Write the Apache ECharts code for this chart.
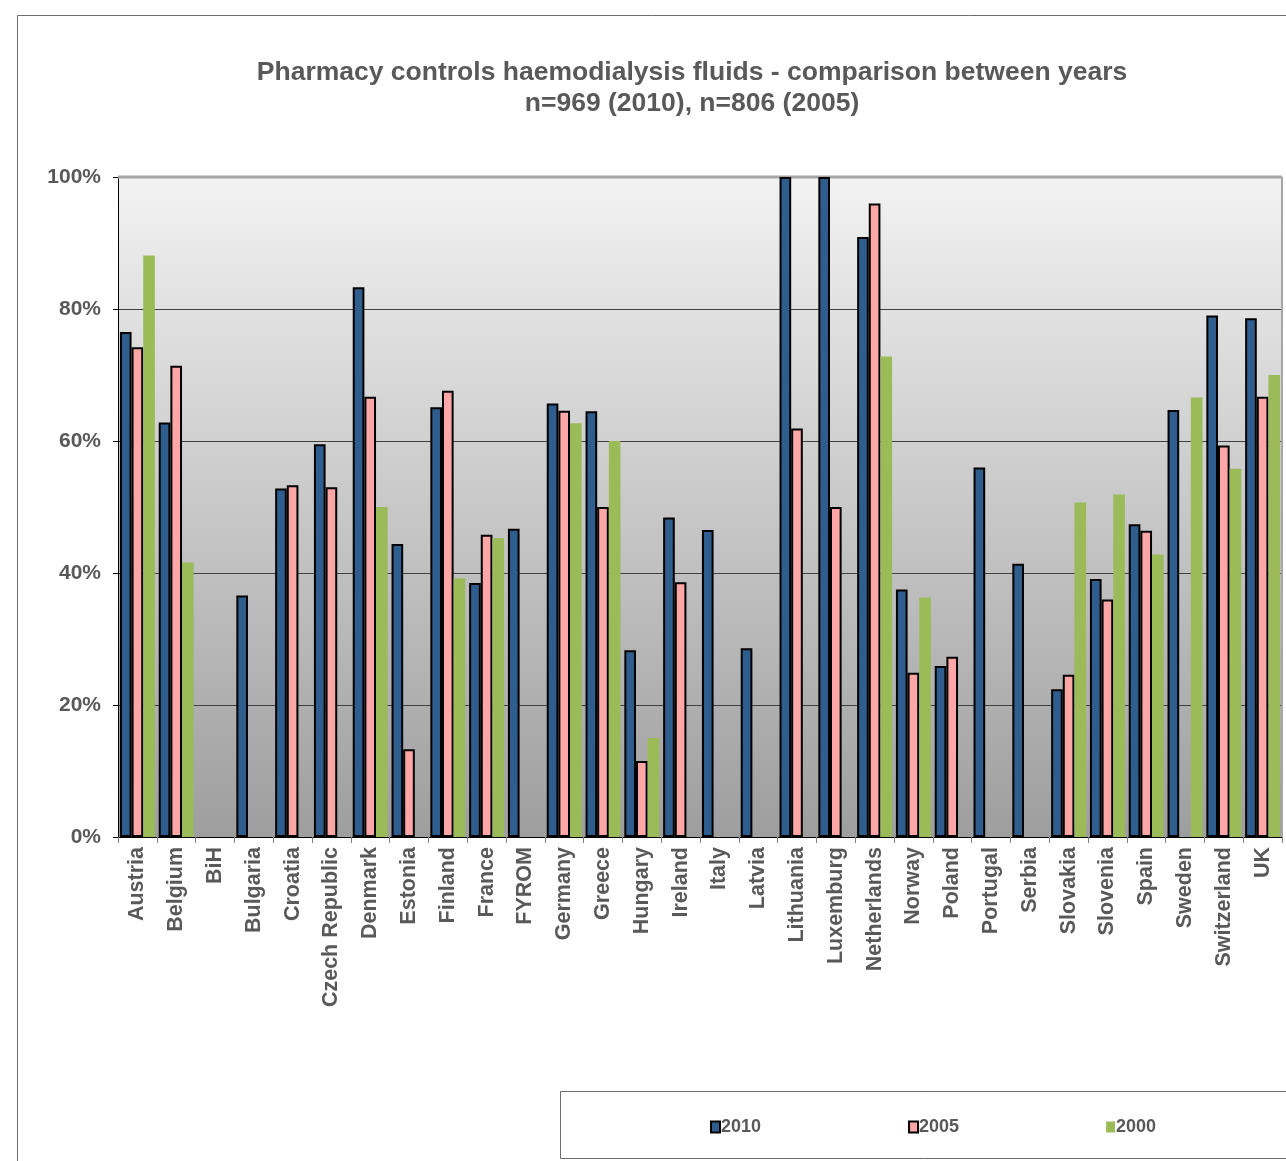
<!DOCTYPE html>
<html>
<head>
<meta charset="utf-8">
<script src="https://cdn.jsdelivr.net/npm/echarts@6/dist/echarts.min.js"></script>
<style>
html,body{margin:0;padding:0;background:#fff;}
#chart{width:1286px;height:1161px;}
</style>
</head>
<body>
<div id="chart"></div>
<script>
const categories = ['Austria','Belgium','BiH','Bulgaria','Croatia','Czech Republic','Denmark','Estonia','Finland','France','FYROM','Germany','Greece','Hungary','Ireland','Italy','Latvia','Lithuania','Luxemburg','Netherlands','Norway','Poland','Portugal','Serbia','Slovakia','Slovenia','Spain','Sweden','Switzerland','UK'];
const values2010 = [76.5,62.8,null,36.6,52.8,59.5,83.3,44.4,65.1,38.5,46.7,65.7,64.5,28.3,48.4,46.5,28.6,100,100,90.9,37.5,25.9,56.0,41.4,22.4,39.1,47.4,64.7,79.0,78.6];
const values2005 = [74.2,71.4,null,null,53.3,53.0,66.7,13.3,67.6,45.8,null,64.6,50.0,11.5,38.6,null,null,61.9,50.0,96.0,24.9,27.3,null,null,24.6,36.0,46.4,null,59.3,66.7];
const values2000 = [88.1,41.6,null,null,null,null,50.0,null,39.2,45.3,null,62.7,60.0,15.0,null,null,null,null,null,72.8,36.3,null,null,null,50.7,51.9,42.8,66.6,55.8,70.0];
const yTicks = [0,20,40,60,80,100];
const seriesNames = ['2010','2005','2000'];

const FONT = '"Liberation Sans", Arial, sans-serif';
const TXT = '#595959';
const chart = echarts.init(document.getElementById('chart'), null, {renderer:'canvas'});
const option = {
  animation:false,
  backgroundColor:'#fff',
  title:{
    text:'Pharmacy controls haemodialysis fluids - comparison between years\nn=969 (2010), n=806 (2005)',
    left:687, top:52, textAlign:'center',
    textStyle:{fontFamily:FONT,fontWeight:'bold',fontSize:26.5,color:TXT,lineHeight:31}
  },
  legend:{
    data:[
      {name:seriesNames[0],itemStyle:{borderColor:'#000',borderWidth:2}},
      {name:seriesNames[1],itemStyle:{borderColor:'#000',borderWidth:2}},
      {name:seriesNames[2]}
    ],
    left:705, top:1113, itemWidth:9, itemHeight:11, itemGap:147,
    icon:'rect',
    textStyle:{fontFamily:FONT,fontWeight:'bold',fontSize:18,color:TXT,padding:[0,0,0,-4]}
  },
  grid:{
    left:118, top:177, right:4, height:660,
    show:true,
    borderWidth:0,
    backgroundColor:new echarts.graphic.LinearGradient(0,0,0,1,[{offset:0,color:'#f2f2f2'},{offset:1,color:'#9e9e9e'}])
  },
  xAxis:{
    type:'category', data:categories,
    axisLine:{show:true,lineStyle:{color:'#000',width:1}},
    axisTick:{show:true,length:6,alignWithLabel:false,lineStyle:{color:'#808080'}},
    axisLabel:{interval:0,rotate:90,margin:10,fontFamily:FONT,fontWeight:'bold',fontSize:21.5,color:TXT}
  },
  yAxis:{
    type:'value', min:yTicks[0], max:yTicks[yTicks.length-1], interval:20,
    axisLine:{show:true,lineStyle:{color:'#000',width:1}},
    axisTick:{show:true,length:5,lineStyle:{color:'#000'}},
    axisLabel:{formatter:'{value}%',margin:17,fontFamily:FONT,fontWeight:'bold',fontSize:21,color:TXT},
    splitLine:{show:true,lineStyle:{color:['#000','#404040','#404040','#404040','#404040','#a6a6a6'],width:1}}
  },
  series:[
    {name:seriesNames[0],type:'bar',data:values2010,barGap:'0%',barCategoryGap:'10%',
     itemStyle:{color:'#2f5e8e',borderColor:'#000',borderWidth:2}},
    {name:seriesNames[1],type:'bar',data:values2005,barGap:'0%',barCategoryGap:'10%',
     itemStyle:{color:'#ffa6a6',borderColor:'#000',borderWidth:2}},
    {name:seriesNames[2],type:'bar',data:values2000,barGap:'0%',barCategoryGap:'10%',
     itemStyle:{color:'#9bbb59'}}
  ],
  graphic:[
    {type:'rect',shape:{x:17.5,y:15.5,width:1300,height:1200},style:{fill:'none',stroke:'#6d6d6d',lineWidth:1},z:-1,silent:true},
    {type:'line',shape:{x1:118,y1:177,x2:1282,y2:177},style:{stroke:'#a6a6a6',lineWidth:3},z:1,silent:true},
    {type:'line',shape:{x1:1282,y1:177,x2:1282,y2:837},style:{stroke:'#a6a6a6',lineWidth:2},z:1,silent:true},
    {type:'rect',shape:{x:560.5,y:1091.5,width:800,height:67},style:{fill:'none',stroke:'#6d6d6d',lineWidth:1},z:-1,silent:true}
  ]
};
chart.setOption(option);
</script>
</body>
</html>
